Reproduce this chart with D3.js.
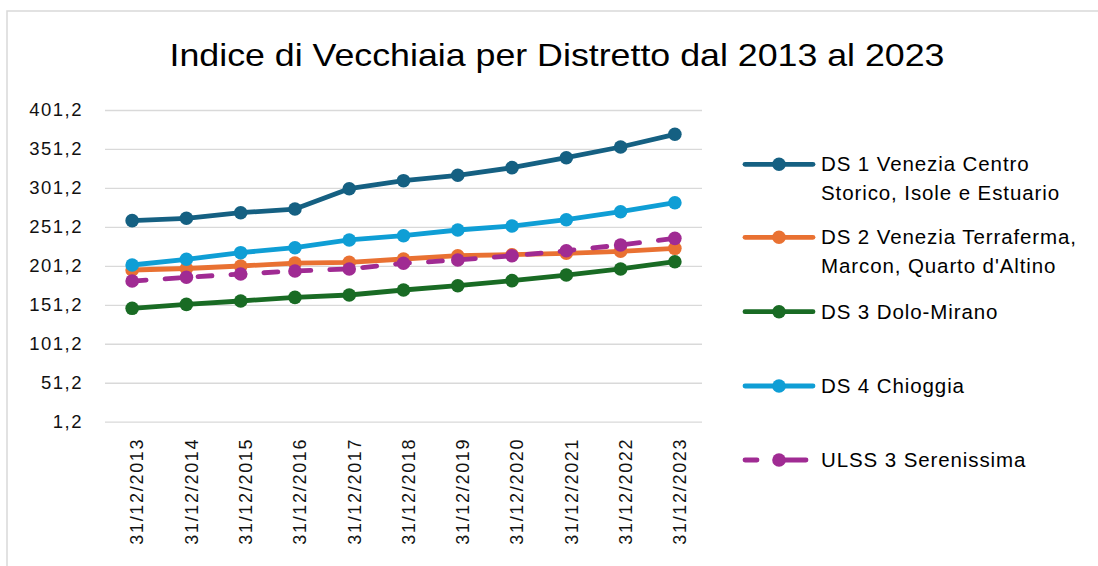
<!DOCTYPE html>
<html>
<head>
<meta charset="utf-8">
<script src="https://cdn.jsdelivr.net/npm/d3@7"></script>
<style>
  body { margin: 0; background: #fff; }
  svg { display: block; }
</style>
</head>
<body>
<div id="chart"></div>
<script>
// DATA
const dates = ["31/12/2013", "31/12/2014", "31/12/2015", "31/12/2016", "31/12/2017", "31/12/2018",
               "31/12/2019", "31/12/2020", "31/12/2021", "31/12/2022", "31/12/2023"];
const ds1 = [259.2, 262.2, 269.4, 274.1, 300.2, 310.5, 317.4, 327.2, 340.0, 353.7, 370.0];
const ds2 = [195.9, 197.8, 201.0, 204.8, 205.7, 210.0, 214.2, 215.5, 217.3, 219.9, 223.7];
const ds3 = [146.7, 151.8, 156.1, 160.8, 163.8, 170.2, 175.7, 182.2, 189.4, 197.2, 206.5];
const ds4 = [202.3, 209.6, 218.1, 224.5, 234.4, 239.9, 247.2, 252.3, 260.4, 270.7, 282.2];
const ulss = [181.7, 186.5, 190.7, 194.6, 197.2, 204.5, 208.7, 214.2, 220.6, 227.9, 236.5];
const yTicks = [1.2, 51.2, 101.2, 151.2, 201.2, 251.2, 301.2, 351.2, 401.2];

const seriesNames = [
  ["DS 1 Venezia Centro", "Storico, Isole e Estuario"],
  ["DS 2 Venezia Terraferma,", "Marcon, Quarto d'Altino"],
  ["DS 3 Dolo-Mirano"],
  ["DS 4 Chioggia"],
  ["ULSS 3 Serenissima"]
];
const seriesValues = [ds1, ds2, ds3, ds4, ulss];
const seriesColors = ["#156082", "#E97132", "#196B24", "#0F9ED5", "#A02B93"];
const seriesDashed = [false, false, false, false, true];

const width = 1098, height = 566;
const plot = { left: 105, right: 702, top: 110, bottom: 421.7 };

const svg = d3.select("#chart").append("svg")
  .attr("width", width)
  .attr("height", height);

// chart area border
svg.append("rect")
  .attr("x", 7).attr("y", 11)
  .attr("width", width + 20).attr("height", height + 20)
  .attr("fill", "none")
  .attr("stroke", "#d9d9d9")
  .attr("stroke-width", 1.5);

// title
svg.append("text")
  .attr("x", 557).attr("y", 65.5)
  .attr("text-anchor", "middle")
  .attr("font-family", "Liberation Sans, Arial, sans-serif")
  .attr("font-size", 32)
  .attr("fill", "#000")
  .attr("textLength", 775)
  .attr("lengthAdjust", "spacingAndGlyphs")
  .text("Indice di Vecchiaia per Distretto dal 2013 al 2023");

// scales
const x = d3.scalePoint()
  .domain(dates)
  .range([plot.left, plot.right])
  .padding(0.5);

const y = d3.scaleLinear()
  .domain([1.2, 401.2])
  .range([plot.bottom, plot.top]);

const fmt = d => d3.format(".1f")(d).replace(".", ",");

// gridlines
const yAxis = d3.axisLeft(y)
  .tickValues(yTicks)
  .tickSize(-(plot.right - plot.left))
  .tickFormat(fmt)
  .tickPadding(22);

const gy = svg.append("g")
  .attr("transform", `translate(${plot.left},0)`)
  .call(yAxis);
gy.select(".domain").remove();
gy.selectAll(".tick line")
  .attr("stroke", "#d9d9d9")
  .attr("stroke-width", 1.3);
gy.selectAll(".tick text")
  .attr("font-family", "Liberation Sans, Arial, sans-serif")
  .attr("font-size", 18.5)
  .attr("letter-spacing", 1.5)
  .attr("fill", "#111");

// x axis labels
const xAxis = d3.axisBottom(x).tickSize(0).tickPadding(0);
const gx = svg.append("g")
  .attr("transform", `translate(0,${plot.bottom})`)
  .call(xAxis);
gx.select(".domain").remove();
gx.selectAll(".tick text")
  .attr("font-family", "Liberation Sans, Arial, sans-serif")
  .attr("font-size", 18)
  .attr("letter-spacing", 1.7)
  .attr("fill", "#111")
  .attr("text-anchor", "end")
  .attr("x", -16)
  .attr("y", 0)
  .attr("dy", "0.38em")
  .attr("transform", "translate(4,0) rotate(-90)");

// series
const line = d3.line()
  .x((d, i) => x(dates[i]))
  .y(d => y(d));

seriesValues.forEach((vals, s) => {
  const g = svg.append("g");
  g.append("path")
    .attr("d", line(vals))
    .attr("fill", "none")
    .attr("stroke", seriesColors[s])
    .attr("stroke-width", 4.8)
    .attr("stroke-linejoin", "round")
    .attr("stroke-linecap", "round")
    .attr("stroke-dasharray", seriesDashed[s] ? "14,19" : null);
  g.selectAll("circle")
    .data(vals)
    .enter()
    .append("circle")
    .attr("cx", (d, i) => x(dates[i]))
    .attr("cy", d => y(d))
    .attr("r", 6.8)
    .attr("fill", seriesColors[s]);
});

// legend
const legendRows = [164.3, 237.3, 311.7, 386, 460];
const legend = svg.append("g");
seriesNames.forEach((lines, s) => {
  const ly = legendRows[s];
  const g = legend.append("g").attr("transform", `translate(0,${ly})`);
  if (seriesDashed[s]) {
    g.append("line").attr("x1", 745).attr("x2", 757).attr("y1", 0).attr("y2", 0)
      .attr("stroke", seriesColors[s]).attr("stroke-width", 4.8).attr("stroke-linecap", "round");
    g.append("line").attr("x1", 781).attr("x2", 806).attr("y1", 0).attr("y2", 0)
      .attr("stroke", seriesColors[s]).attr("stroke-width", 4.8).attr("stroke-linecap", "round");
  } else {
    g.append("line").attr("x1", 745).attr("x2", 813).attr("y1", 0).attr("y2", 0)
      .attr("stroke", seriesColors[s]).attr("stroke-width", 4.8).attr("stroke-linecap", "round");
  }
  g.append("circle").attr("cx", 779).attr("cy", 0).attr("r", 6.8).attr("fill", seriesColors[s]);
  lines.forEach((t, k) => {
    g.append("text")
      .attr("x", 821)
      .attr("y", 7 + k * 28.5)
      .attr("font-family", "Liberation Sans, Arial, sans-serif")
      .attr("font-size", 20.5)
      .attr("letter-spacing", 0.9)
      .attr("fill", "#000")
      .text(t);
  });
});
</script>
</body>
</html>
